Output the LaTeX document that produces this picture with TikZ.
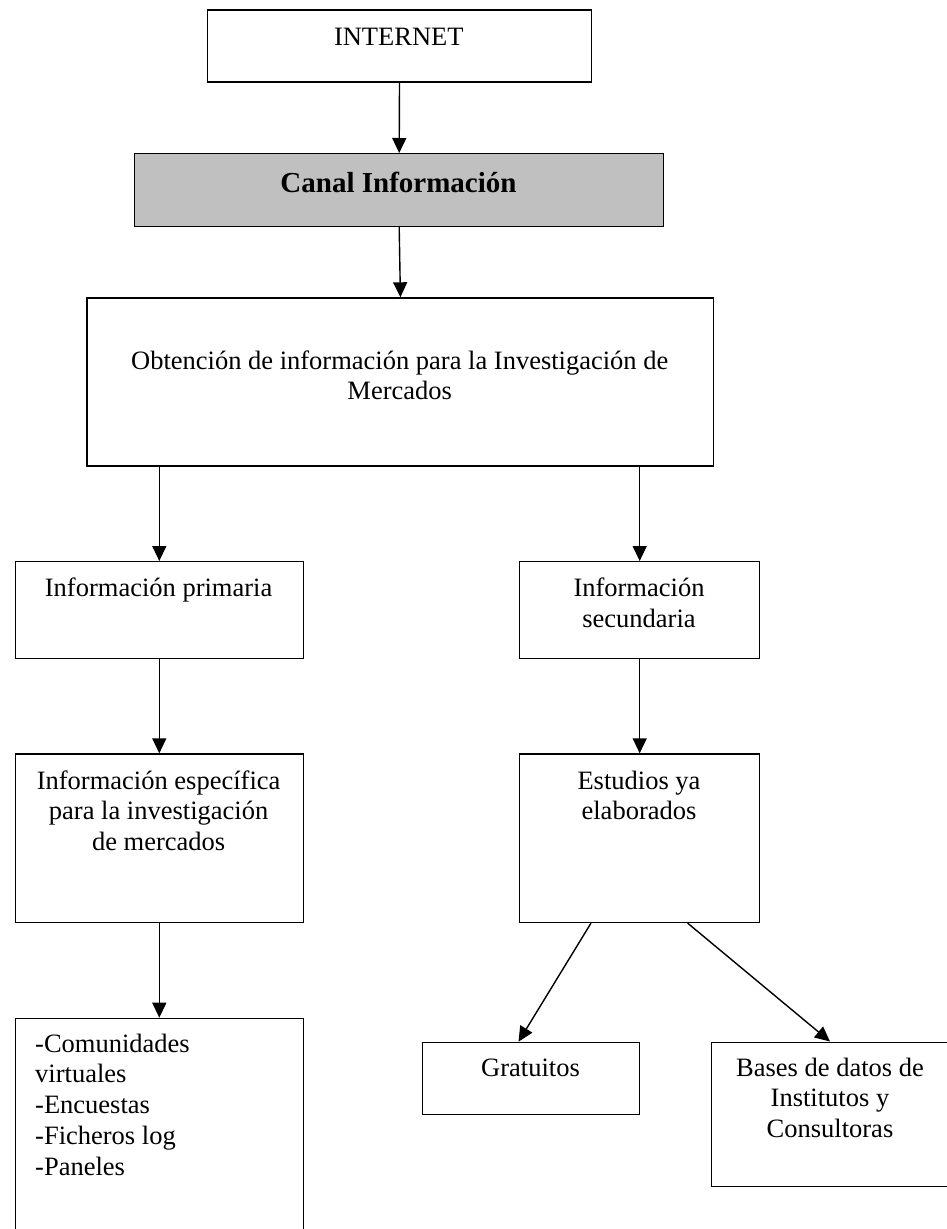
\documentclass[tikz,border=0pt]{standalone}
\usepackage{fontspec}
\setmainfont{Liberation Serif}
\usetikzlibrary{arrows.meta}
\definecolor{boxgray}{HTML}{C0C0C0}
\begin{document}
\begin{tikzpicture}[x=1pt,y=-1pt,
  box/.style={draw=black, line width=1.4pt, fill=white, inner sep=0pt, anchor=north west},
  txt/.style={inner sep=0pt, anchor=base, font=\fontsize{26.5}{30.5}\selectfont},
  ltxt/.style={txt, anchor=base west},
  btxt/.style={inner sep=0pt, anchor=base, font=\fontsize{29}{33}\selectfont\bfseries},
  arr/.style={line width=1.4pt, -{Triangle[length=15pt,width=14pt]}}
]
\useasboundingbox (0,0) rectangle (947,1229);
\clip (0,0) rectangle (947,1229);

% boxes
\node[box, minimum width=384.4pt, minimum height=72pt]  (internet) at (206.6,9.3) {};
\node[box, minimum width=529pt, minimum height=72.7pt, fill=boxgray] (canal) at (134,153) {};
\node[box, minimum width=626.6pt, minimum height=168pt] (obt) at (86.4,297.3) {};
\node[box, minimum width=288.2pt, minimum height=96.7pt] (prim) at (14.5,561) {};
\node[box, minimum width=240pt, minimum height=96.7pt]  (sec) at (519,561) {};
\node[box, minimum width=288.2pt, minimum height=168.4pt] (esp) at (14.5,753.3) {};
\node[box, minimum width=240pt, minimum height=168.4pt] (est) at (519,753.3) {};
\node[box, minimum width=288.2pt, minimum height=230pt] (list) at (14.5,1017.7) {};
\node[box, minimum width=217pt, minimum height=72pt]   (grat) at (422,1041.7) {};
\node[box, minimum width=238pt, minimum height=144.2pt] (bases) at (711,1041.5) {};

% box texts
\node[txt]  (tinternet) at (398.8,45.7) {INTERNET};
\node[btxt] (tcanal) at (398.5,192.3) {Canal Información};
\node[txt]  (tobt1) at (399.7,369.3) {Obtención de información para la Investigación de};
\node[txt]  (tobt2) at (399.7,399.3) {Mercados};
\node[txt]  (tprim) at (158.6,596.7) {Información primaria};
\node[txt]  (tsec1) at (639,596.7) {Información};
\node[txt]  (tsec2) at (639,627.7) {secundaria};
\node[txt]  (tesp1) at (158.6,789) {Información específica};
\node[txt]  (tesp2) at (158.6,819.3) {para la investigación};
\node[txt]  (tesp3) at (158.6,850) {de mercados};
\node[txt]  (test1) at (639,789) {Estudios ya};
\node[txt]  (test2) at (639,819.3) {elaborados};
\node[ltxt] (tlist1) at (35,1052.7) {-Comunidades};
\node[ltxt] (tlist2) at (35,1082.7) {virtuales};
\node[ltxt] (tlist3) at (35,1113.3) {-Encuestas};
\node[ltxt] (tlist4) at (35,1144) {-Ficheros log};
\node[ltxt] (tlist5) at (35,1175) {-Paneles};
\node[txt]  (tgrat) at (530.5,1076) {Gratuitos};
\node[txt]  (tbases1) at (830,1076) {Bases de datos de};
\node[txt]  (tbases2) at (830,1106.7) {Institutos y};
\node[txt]  (tbases3) at (830,1137.3) {Consultoras};

% connectors
\draw[arr] (internet.south) -- (canal.north);
\draw[arr] (canal.south) -- (obt.north);
\draw[arr] (obt.south -| prim.north) -- (prim.north);
\draw[arr] (obt.south -| sec.north) -- (sec.north);
\draw[arr] (prim.south) -- (esp.north);
\draw[arr] (sec.south) -- (est.north);
\draw[arr] (esp.south) -- (list.north);
\draw[arr] ([xshift=72pt]est.south west) -- ([xshift=96.5pt]grat.north west);
\draw[arr] ([xshift=168.6pt]est.south west) -- ([xshift=119pt]bases.north west);
\end{tikzpicture}
\end{document}
